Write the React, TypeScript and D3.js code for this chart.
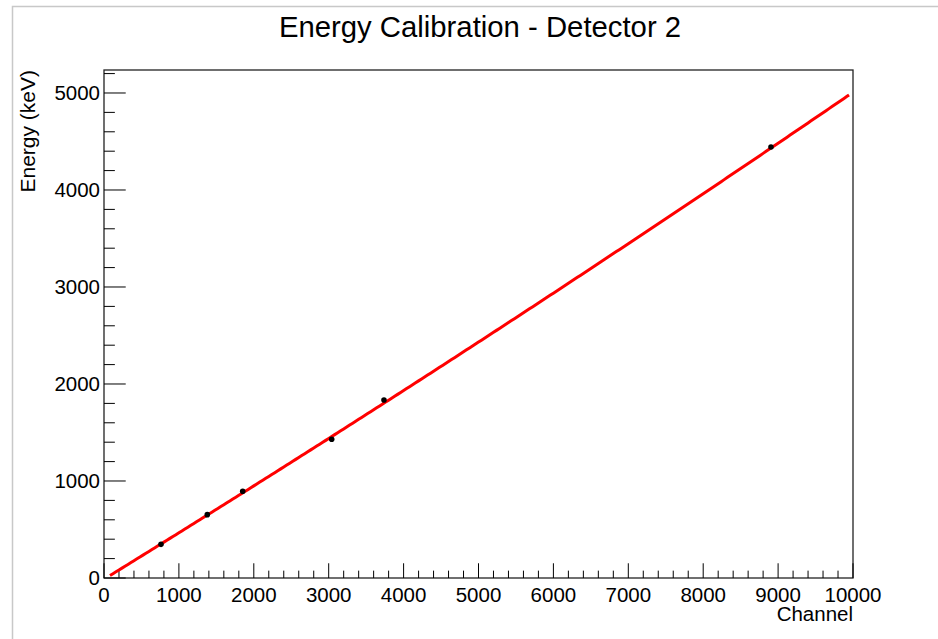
import React, { useEffect, useRef } from "react";
import * as d3 from "d3";

// Calibration peaks: fitted channel centroid and gamma energy (keV)
const channels = [761, 1379, 1852, 3040, 3738, 8905];
const energies = [347, 653, 894, 1430, 1835, 4443];

// Second-order calibration fit E = p0 + p1*ch + p2*ch^2, drawn over its fit range
const fitParams = [-12.4, 0.4758, 2.62e-6];
const fitRange = [80, 9947];

const xTicks = [0, 1000, 2000, 3000, 4000, 5000, 6000, 7000, 8000, 9000, 10000];
const yTicks = [0, 1000, 2000, 3000, 4000, 5000];

const W = 938;
const H = 639;
const frame = { left: 104, right: 853, top: 70, bottom: 578 };
const FONT = "'Liberation Sans', Arial, Helvetica, sans-serif";

const calib = (ch: number) => fitParams[0] + fitParams[1] * ch + fitParams[2] * ch * ch;

export default function App() {
  const ref = useRef<SVGSVGElement>(null);

  useEffect(() => {
    const svg = d3.select(ref.current);
    svg.selectAll("*").remove();

    const x = d3.scaleLinear().domain([0, 10000]).range([frame.left, frame.right]);
    const y = d3.scaleLinear().domain([0, 5237]).range([frame.bottom, frame.top]);

    svg.append("rect").attr("width", W).attr("height", H).attr("fill", "#fff");

    // canvas border
    svg.append("path")
      .attr("d", `M12.5,${H} V6.5 H${W}`)
      .attr("fill", "none")
      .attr("stroke", "#c8c8c8")
      .attr("stroke-width", 1.5);

    // title
    svg.append("text")
      .attr("x", 480)
      .attr("y", 37)
      .attr("text-anchor", "middle")
      .attr("font-family", FONT)
      .attr("font-size", 29.3)
      .attr("fill", "#000")
      .text("Energy Calibration - Detector 2");

    // frame
    svg.append("rect")
      .attr("x", frame.left)
      .attr("y", frame.top)
      .attr("width", frame.right - frame.left)
      .attr("height", frame.bottom - frame.top)
      .attr("fill", "none")
      .attr("stroke", "#222")
      .attr("stroke-width", 1.3);

    const plotW = frame.right - frame.left;
    const plotH = frame.bottom - frame.top;
    const xMajorLen = plotH * 0.029;
    const yMajorLen = plotW * 0.029;

    // x axis ticks (inward)
    const xMinor = d3.range(0, 10001, 200);
    svg.append("g")
      .selectAll("line")
      .data(xMinor)
      .join("line")
      .attr("x1", (d) => x(d))
      .attr("x2", (d) => x(d))
      .attr("y1", frame.bottom)
      .attr("y2", (d) => frame.bottom - (d % 1000 === 0 ? xMajorLen : xMajorLen / 2))
      .attr("stroke", "#000")
      .attr("stroke-width", 1);

    svg.append("g")
      .selectAll("text")
      .data(xTicks)
      .join("text")
      .attr("x", (d) => x(d))
      .attr("y", 602)
      .attr("text-anchor", "middle")
      .attr("font-family", FONT)
      .attr("font-size", 20.5)
      .text((d) => String(d));

    // y axis ticks (inward)
    const yMinor = d3.range(0, 5201, 200);
    svg.append("g")
      .selectAll("line")
      .data(yMinor)
      .join("line")
      .attr("x1", frame.left)
      .attr("x2", (d) => frame.left + (d % 1000 === 0 ? yMajorLen : yMajorLen / 2))
      .attr("y1", (d) => y(d))
      .attr("y2", (d) => y(d))
      .attr("stroke", "#000")
      .attr("stroke-width", 1);

    svg.append("g")
      .selectAll("text")
      .data(yTicks)
      .join("text")
      .attr("x", 100)
      .attr("y", (d) => y(d))
      .attr("dy", "0.36em")
      .attr("text-anchor", "end")
      .attr("font-family", FONT)
      .attr("font-size", 20.5)
      .text((d) => String(d));

    // axis titles
    svg.append("text")
      .attr("x", frame.right)
      .attr("y", 621)
      .attr("text-anchor", "end")
      .attr("font-family", FONT)
      .attr("font-size", 20.5)
      .text("Channel");

    svg.append("text")
      .attr("transform", `translate(35,${frame.top}) rotate(-90)`)
      .attr("text-anchor", "end")
      .attr("font-family", FONT)
      .attr("font-size", 21)
      .text("Energy (keV)");

    // fit curve
    const samples = d3.range(fitRange[0], fitRange[1], 40).concat([fitRange[1]]);
    const fitLine = d3.line<number>()
      .x((c) => x(c))
      .y((c) => y(calib(c)));
    svg.append("path")
      .attr("d", fitLine(samples))
      .attr("fill", "none")
      .attr("stroke", "#ff0000")
      .attr("stroke-width", 3);

    // calibration points
    svg.append("g")
      .selectAll("circle")
      .data(channels.map((c, i) => [c, energies[i]]))
      .join("circle")
      .attr("cx", (d) => x(d[0]))
      .attr("cy", (d) => y(d[1]))
      .attr("r", 2.8)
      .attr("fill", "#000");
  }, []);

  return (
    <svg
      ref={ref}
      width={W}
      height={H}
      style={{ position: "absolute", left: 0, top: 0, display: "block" }}
    />
  );
}
